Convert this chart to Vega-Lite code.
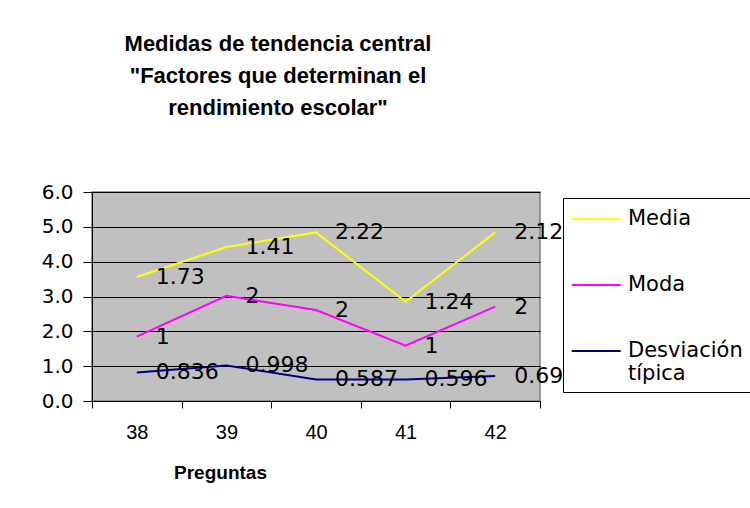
{
  "$schema": "https://vega.github.io/schema/vega-lite/v6.json",
  "width": 448,
  "height": 209,
  "autosize": "none",
  "padding": {"left": 92, "top": 192, "right": 210, "bottom": 107},
  "background": "white",
  "title": {
    "text": ["Medidas de tendencia central", "\"Factores que determinan el", "rendimiento escolar\""],
    "font": "Liberation Sans",
    "fontSize": 22,
    "fontWeight": "bold",
    "color": "black",
    "anchor": "middle",
    "dx": -38,
    "offset": 45,
    "lineHeight": 32,
    "baseline": "alphabetic"
  },
  "config": {"view": {"fill": "#C0C0C0", "stroke": "#808080", "strokeWidth": 1.5}},
  "data": {
    "values": [
      {"pregunta": 38, "serie": "Media", "valor": 3.56, "etiqueta": "1.73"},
      {"pregunta": 39, "serie": "Media", "valor": 4.42, "etiqueta": "1.41"},
      {"pregunta": 40, "serie": "Media", "valor": 4.84, "etiqueta": "2.22"},
      {"pregunta": 41, "serie": "Media", "valor": 2.85, "etiqueta": "1.24"},
      {"pregunta": 42, "serie": "Media", "valor": 4.84, "etiqueta": "2.12"},
      {"pregunta": 38, "serie": "Moda", "valor": 1.85, "etiqueta": "1"},
      {"pregunta": 39, "serie": "Moda", "valor": 3.02, "etiqueta": "2"},
      {"pregunta": 40, "serie": "Moda", "valor": 2.61, "etiqueta": "2"},
      {"pregunta": 41, "serie": "Moda", "valor": 1.59, "etiqueta": "1"},
      {"pregunta": 42, "serie": "Moda", "valor": 2.71, "etiqueta": "2"},
      {"pregunta": 38, "serie": "Desviación típica", "valor": 0.82, "etiqueta": "0.836"},
      {"pregunta": 39, "serie": "Desviación típica", "valor": 1.02, "etiqueta": "0.998"},
      {"pregunta": 40, "serie": "Desviación típica", "valor": 0.62, "etiqueta": "0.587"},
      {"pregunta": 41, "serie": "Desviación típica", "valor": 0.62, "etiqueta": "0.596"},
      {"pregunta": 42, "serie": "Desviación típica", "valor": 0.72, "etiqueta": "0.69"}
    ]
  },
  "encoding": {
    "x": {
      "field": "pregunta",
      "type": "quantitative",
      "scale": {"domain": [37.5, 42.5], "nice": false, "zero": false},
      "axis": {
        "values": [37.5, 38.5, 39.5, 40.5, 41.5, 42.5],
        "labelExpr": "datum.value > 42 ? '' : format(datum.value + 0.5, 'd')",
        "labelOffset": 44.8,
        "labelFont": "Liberation Sans",
        "labelFontSize": 20,
        "labelColor": "black",
        "labelPadding": 14,
        "labelOverlap": false,
        "labelBound": false,
        "labelFlush": false,
        "tickColor": "black",
        "tickSize": 7,
        "domainColor": "black",
        "grid": false,
        "title": "Preguntas",
        "titleFont": "Liberation Sans",
        "titleFontSize": 19,
        "titleFontWeight": "bold",
        "titleColor": "black",
        "titleX": 128,
        "titleY": 62,
        "titleBaseline": "top"
      }
    },
    "y": {
      "field": "valor",
      "type": "quantitative",
      "scale": {"domain": [0, 6], "nice": false},
      "axis": {
        "values": [0, 1, 2, 3, 4, 5, 6],
        "format": ".1f",
        "grid": true,
        "gridColor": "black",
        "gridWidth": 1,
        "gridOpacity": 1,
        "tickColor": "black",
        "tickSize": 9,
        "domainColor": "black",
        "labelFont": "DejaVu Sans",
        "labelFontSize": 20,
        "labelColor": "black",
        "labelPadding": 10,
        "title": null
      }
    }
  },
  "layer": [
    {
      "mark": {"type": "line", "strokeWidth": 2},
      "encoding": {
        "color": {
          "field": "serie",
          "type": "nominal",
          "sort": ["Media", "Moda", "Desviación típica"],
          "scale": {"domain": ["Media", "Moda", "Desviación típica"], "range": ["#FFFF00", "#FF00FF", "#000080"]},
          "legend": {
            "title": null,
            "orient": "none",
            "legendX": 471,
            "legendY": 6,
            "zindex": 1,
            "symbolType": "M-1,0H3",
            "symbolSize": 600,
            "symbolStrokeWidth": 2,
            "labelFont": "DejaVu Sans",
            "labelFontSize": 21,
            "labelColor": "black",
            "labelOffset": 30.5,
            "labelLimit": 300,
            "rowPadding": 42,
            "padding": 7.5,
            "strokeColor": "black",
            "fillColor": "white",
            "cornerRadius": 0,
            "labelExpr": "datum.label == 'Desviación típica' ? ['Desviación', 'típica'] : datum.label"
          }
        }
      }
    },
    {
      "mark": {"type": "text", "align": "left", "baseline": "middle", "dx": 19, "font": "DejaVu Sans", "fontSize": 22, "color": "black"},
      "encoding": {
        "text": {"field": "etiqueta", "type": "nominal"}
      }
    }
  ]
}
